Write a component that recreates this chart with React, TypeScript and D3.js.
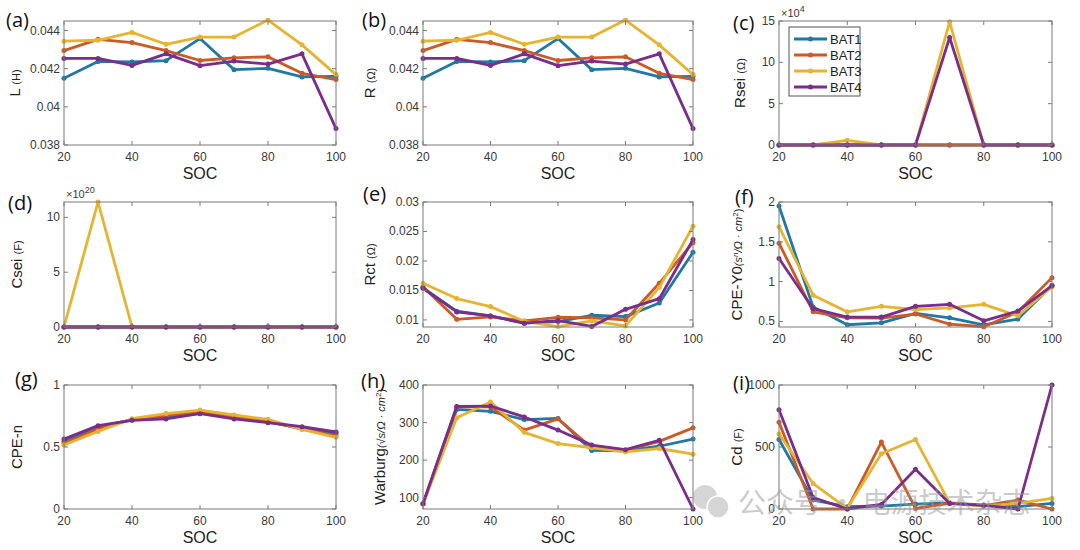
import React from 'react';
import * as d3 from 'd3';

const soc = [20, 30, 40, 50, 60, 70, 80, 90, 100];
const series = ['BAT1', 'BAT2', 'BAT3', 'BAT4'];
const colors = ['#1f78a6', '#cc5a26', '#e6b430', '#7a2d8a'];

// each parameter: [BAT1, BAT2, BAT3, BAT4]
const lData = [
  [0.0415, 0.04238, 0.04235, 0.04242, 0.04358, 0.04195, 0.04202, 0.04157, 0.0416],
  [0.04295, 0.04354, 0.04337, 0.04295, 0.04243, 0.04257, 0.04262, 0.04176, 0.04143],
  [0.04344, 0.04349, 0.0439, 0.04328, 0.04366, 0.04366, 0.04455, 0.04325, 0.04169],
  [0.04254, 0.04254, 0.04217, 0.04278, 0.04216, 0.0424, 0.04224, 0.04278, 0.03886],
];
const rData = [
  [0.0415, 0.04238, 0.04235, 0.04242, 0.04358, 0.04195, 0.04202, 0.04157, 0.0416],
  [0.04295, 0.04354, 0.04337, 0.04295, 0.04243, 0.04257, 0.04262, 0.04176, 0.04143],
  [0.04344, 0.04349, 0.0439, 0.04328, 0.04366, 0.04366, 0.04455, 0.04325, 0.04169],
  [0.04254, 0.04254, 0.04217, 0.04278, 0.04216, 0.0424, 0.04224, 0.04278, 0.03886],
];
// Rsei in units of 1e4
const rseiData = [
  [0, 0, 0, 0, 0, 0, 0, 0, 0],
  [0, 0, 0, 0, 0, 0, 0, 0, 0],
  [0, 0, 0.56, 0, 0, 14.9, 0, 0, 0],
  [0, 0, 0, 0, 0, 13.0, 0, 0, 0],
];
// Csei in units of 1e20
const cseiData = [
  [0, 0, 0, 0, 0, 0, 0, 0, 0],
  [0, 0, 0, 0, 0, 0, 0, 0, 0],
  [0, 11.4, 0, 0, 0, 0, 0, 0, 0],
  [0, 0, 0, 0, 0, 0, 0, 0, 0],
];
const rctData = [
  [0.01545, 0.01147, 0.01068, 0.00944, 0.00972, 0.01079, 0.01056, 0.01288, 0.02147],
  [0.01562, 0.01011, 0.01051, 0.00983, 0.01045, 0.01034, 0.01, 0.01621, 0.02311],
  [0.01621, 0.01362, 0.01226, 0.00977, 0.00887, 0.00983, 0.00898, 0.01548, 0.0259],
  [0.01537, 0.01136, 0.01068, 0.00944, 0.00989, 0.0089, 0.0118, 0.0136, 0.02362],
];
const cpeY0Data = [
  [1.95, 0.68, 0.458, 0.483, 0.6, 0.546, 0.458, 0.53, 0.95],
  [1.483, 0.62, 0.546, 0.542, 0.593, 0.466, 0.433, 0.618, 1.05],
  [1.69, 0.83, 0.62, 0.69, 0.65, 0.67, 0.715, 0.57, 0.935],
  [1.29, 0.66, 0.555, 0.555, 0.69, 0.715, 0.508, 0.63, 0.95],
];
const cpeNData = [
  [0.546, 0.664, 0.718, 0.745, 0.78, 0.74, 0.7, 0.653, 0.61],
  [0.53, 0.645, 0.723, 0.755, 0.785, 0.74, 0.707, 0.645, 0.59],
  [0.516, 0.626, 0.728, 0.77, 0.798, 0.758, 0.723, 0.642, 0.578],
  [0.564, 0.672, 0.715, 0.726, 0.769, 0.726, 0.696, 0.664, 0.621],
];
const warburgData = [
  [84, 335, 330, 308, 311, 226, 225, 237, 256],
  [84, 342, 342, 280, 310, 233, 226, 250, 286],
  [83, 313, 355, 274, 244, 233, 222, 231, 216],
  [84, 343, 344, 315, 280, 240, 228, 253, 70],
];
const cdData = [
  [560, 72, 19, 24, 40, 50, 32, 19, 45],
  [700, 0, 0, 540, 5, 45, 27, 72, 0],
  [605, 205, 5, 445, 560, 50, 24, 45, 85],
  [800, 93, 0, 37, 320, 45, 30, 0, 1000],
];

const xTicks = [20, 40, 60, 80, 100];

const FONT = '"Liberation Sans", Arial, sans-serif';

interface PanelProps {
  id: string;
  tag: string;
  data: number[][];
  x0: number;
  x1: number;
  y0: number;
  y1: number;
  domain: [number, number];
  yTicks: number[];
  ylabel: React.ReactNode;
  labelOffset: number;
  tagPos: [number, number];
  exponent?: string;
  legend?: boolean;
}

const Panel: React.FC<PanelProps> = (p) => {
  const x = d3.scaleLinear().domain([20, 100]).range([p.x0, p.x1]);
  const y = d3.scaleLinear().domain(p.domain).range([p.y1, p.y0]);
  const line = d3
    .line<number>()
    .x((_, i) => x(soc[i]))
    .y((d) => y(d));
  const tl = 4;
  const axisColor = '#7a7a7a';
  const labelColor = '#3a3a3a';
  return (
    <g>
      <defs>
        <clipPath id={`clip-${p.id}`}>
          <rect x={p.x0 - 3} y={p.y0 - 3} width={p.x1 - p.x0 + 6} height={p.y1 - p.y0 + 6} />
        </clipPath>
      </defs>
      <rect x={p.x0} y={p.y0} width={p.x1 - p.x0} height={p.y1 - p.y0} fill="#fff" />
      <g clipPath={`url(#clip-${p.id})`}>
        {p.data.map((vals, s) => (
          <g key={s}>
            <path d={line(vals) || ''} fill="none" stroke={colors[s]} strokeWidth={2.8} strokeLinejoin="round" />
            {vals.map((v, i) => (
              <circle key={i} cx={x(soc[i])} cy={y(v)} r={2.5} fill={colors[s]} />
            ))}
          </g>
        ))}
      </g>
      {/* box */}
      <rect x={p.x0} y={p.y0} width={p.x1 - p.x0} height={p.y1 - p.y0} fill="none" stroke={axisColor} strokeWidth={1} />
      {xTicks.map((t) => (
        <g key={t}>
          <line x1={x(t)} x2={x(t)} y1={p.y1} y2={p.y1 - tl} stroke={axisColor} />
          <line x1={x(t)} x2={x(t)} y1={p.y0} y2={p.y0 + tl} stroke={axisColor} />
          <text x={x(t)} y={p.y1 + 16} textAnchor="middle" fontSize={12} fill={labelColor} fontFamily={FONT}>
            {t}
          </text>
        </g>
      ))}
      {p.yTicks.map((t) => (
        <g key={t}>
          <line x1={p.x0} x2={p.x0 + tl} y1={y(t)} y2={y(t)} stroke={axisColor} />
          <line x1={p.x1} x2={p.x1 - tl} y1={y(t)} y2={y(t)} stroke={axisColor} />
          <text x={p.x0 - 4} y={y(t) + 4} textAnchor="end" fontSize={12} fill={labelColor} fontFamily={FONT}>
            {String(t)}
          </text>
        </g>
      ))}
      {p.exponent && (
        <text x={p.x0 + 2} y={p.y0 - 4} fontSize={11} fill={labelColor} fontFamily={FONT}>
          ×10
          <tspan dy={-5} fontSize={9}>
            {p.exponent}
          </tspan>
        </text>
      )}
      <text
        transform={`translate(${p.x0 - p.labelOffset},${(p.y0 + p.y1) / 2}) rotate(-90)`}
        textAnchor="middle"
        fontSize={15}
        fill="#222"
        fontFamily={FONT}
      >
        {p.ylabel}
      </text>
      <text x={(p.x0 + p.x1) / 2} y={p.y1 + 34} textAnchor="middle" fontSize={16} fill="#222" fontFamily={FONT}>
        SOC
      </text>
      <text x={p.tagPos[0]} y={p.tagPos[1]} fontSize={20} fill="#111" fontFamily='"Open Sans", "Noto Sans", sans-serif'>
        {p.tag}
      </text>
      {p.legend && (
        <g>
          <rect x={789} y={27} width={71} height={69} fill="#fff" stroke="#555" strokeWidth={1} />
          {series.map((name, i) => (
            <g key={name}>
              <line x1={794} x2={827} y1={39 + i * 16} y2={39 + i * 16} stroke={colors[i]} strokeWidth={2.8} />
              <circle cx={810.5} cy={39 + i * 16} r={2.5} fill={colors[i]} />
              <text x={830} y={39 + i * 16 + 5} fontSize={13} fill="#222" fontFamily={FONT}>
                {name}
              </text>
            </g>
          ))}
        </g>
      )}
    </g>
  );
};

const small = { fontSize: 11 };

const App: React.FC = () => {
  const cols = [
    [64, 336],
    [423, 693],
    [779, 1052],
  ];
  const rows = [
    [21, 145],
    [202, 327],
    [385, 509],
  ];
  return (
    <div style={{ position: 'absolute', left: 0, top: 0 }}>
      <svg width={1080} height={550} style={{ display: 'block', background: '#fff' }}>
        <Panel
          id="a" tag="(a)" data={lData}
          x0={cols[0][0]} x1={cols[0][1]} y0={rows[0][0]} y1={rows[0][1]}
          domain={[0.038, 0.0445]} yTicks={[0.038, 0.04, 0.042, 0.044]}
          ylabel={<>L <tspan {...small}>(H)</tspan></>} labelOffset={44} tagPos={[6, 27]}
        />
        <Panel
          id="b" tag="(b)" data={rData}
          x0={cols[1][0]} x1={cols[1][1]} y0={rows[0][0]} y1={rows[0][1]}
          domain={[0.038, 0.0445]} yTicks={[0.038, 0.04, 0.042, 0.044]}
          ylabel={<>R <tspan {...small}>(Ω)</tspan></>} labelOffset={48} tagPos={[362, 27]}
        />
        <Panel
          id="c" tag="(c)" data={rseiData}
          x0={cols[2][0]} x1={cols[2][1]} y0={rows[0][0]} y1={rows[0][1]}
          domain={[0, 15]} yTicks={[0, 5, 10, 15]} exponent="4"
          ylabel={<>Rsei <tspan {...small}>(Ω)</tspan></>} labelOffset={34} tagPos={[733, 30]}
          legend
        />
        <Panel
          id="d" tag="(d)" data={cseiData}
          x0={cols[0][0]} x1={cols[0][1]} y0={rows[1][0]} y1={rows[1][1]}
          domain={[0, 11.4]} yTicks={[0, 5, 10]} exponent="20"
          ylabel={<>Csei <tspan {...small}>(F)</tspan></>} labelOffset={42} tagPos={[8, 210]}
        />
        <Panel
          id="e" tag="(e)" data={rctData}
          x0={cols[1][0]} x1={cols[1][1]} y0={rows[1][0]} y1={rows[1][1]}
          domain={[0.0088, 0.03]} yTicks={[0.01, 0.015, 0.02, 0.025, 0.03]}
          ylabel={<>Rct <tspan {...small}>(Ω)</tspan></>} labelOffset={48} tagPos={[363, 201]}
        />
        <Panel
          id="f" tag="(f)" data={cpeY0Data}
          x0={cols[2][0]} x1={cols[2][1]} y0={rows[1][0]} y1={rows[1][1]}
          domain={[0.43, 2]} yTicks={[0.5, 1, 1.5, 2]}
          ylabel={
            <>
              CPE-Y0
              <tspan fontSize={11} fontStyle="italic">(s</tspan>
              <tspan fontSize={8} fontStyle="italic" dy={-4}>n</tspan>
              <tspan fontSize={11} fontStyle="italic" dy={4}>/Ω · cm</tspan>
              <tspan fontSize={8} dy={-4}>2</tspan>
              <tspan fontSize={11} dy={4}>)</tspan>
            </>
          }
          labelOffset={37} tagPos={[735, 204]}
        />
        <Panel
          id="g" tag="(g)" data={cpeNData}
          x0={cols[0][0]} x1={cols[0][1]} y0={rows[2][0]} y1={rows[2][1]}
          domain={[0, 1]} yTicks={[0, 0.5, 1]}
          ylabel="CPE-n" labelOffset={42} tagPos={[15, 386]}
        />
        <Panel
          id="h" tag="(h)" data={warburgData}
          x0={cols[1][0]} x1={cols[1][1]} y0={rows[2][0]} y1={rows[2][1]}
          domain={[70, 400]} yTicks={[100, 200, 300, 400]}
          ylabel={
            <>
              Warburg
              <tspan fontSize={11} fontStyle="italic">(√s/Ω · cm</tspan>
              <tspan fontSize={8} dy={-4}>2</tspan>
              <tspan fontSize={11} dy={4}>)</tspan>
            </>
          }
          labelOffset={38} tagPos={[361, 388]}
        />
        <Panel
          id="i" tag="(i)" data={cdData}
          x0={cols[2][0]} x1={cols[2][1]} y0={rows[2][0]} y1={rows[2][1]}
          domain={[0, 1000]} yTicks={[0, 500, 1000]}
          ylabel={<>Cd <tspan {...small}>(F)</tspan></>} labelOffset={37} tagPos={[733, 390]}
        />
        {/* watermark */}
        <g opacity={0.35}>
          <circle cx={705} cy={497} r={12} fill="#888" />
          <circle cx={718} cy={507} r={11} fill="#888" stroke="#fff" strokeWidth={1.5} />
        </g>
        <text
          x={738}
          y={513}
          fontSize={28}
          fill="#999"
          opacity={0.5}
          fontFamily='"Noto Sans CJK SC", sans-serif'
        >
          公众号 · 电源技术杂志
        </text>
      </svg>
    </div>
  );
};

export default App;
